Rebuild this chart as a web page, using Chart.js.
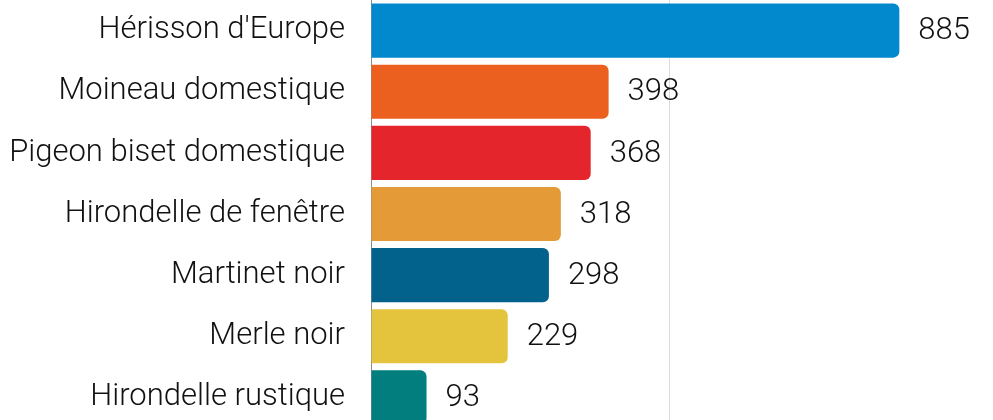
<!DOCTYPE html>
<html>
<head>
<meta charset="utf-8">
<script src="https://cdn.jsdelivr.net/npm/chart.js@4"></script>
<style>
  html, body { margin: 0; padding: 0; background: #fff; overflow: hidden; }
  #wrap { width: 993px; height: 428px; }
</style>
</head>
<body>
<div id="wrap"><canvas id="myChart"></canvas></div>
<script>
// species and counts
var species = ["Hérisson d'Europe", 'Moineau domestique', 'Pigeon biset domestique',
  'Hirondelle de fenêtre', 'Martinet noir', 'Merle noir', 'Hirondelle rustique'];
var counts = [885, 398, 368, 318, 298, 229, 93];
var barColors = ['#0289cd', '#eb601e', '#e4262c', '#e39a37', '#02628c', '#e3c43c', '#027e7e'];
var xTicks = [0, 500, 1000];

var labelFont = { family: "Roboto, sans-serif", size: 31, weight: '300' };

// draw the numbers at the end of each bar
var valueLabels = {
  id: 'valueLabels',
  afterDatasetsDraw: function(chart) {
    var ctx = chart.ctx;
    var meta = chart.getDatasetMeta(0);
    ctx.save();
    ctx.font = Chart.helpers.toFont(labelFont).string;
    ctx.fillStyle = '#111';
    ctx.textAlign = 'left';
    ctx.textBaseline = 'middle';
    meta.data.forEach(function(bar, i) {
      ctx.fillText(String(counts[i]), bar.x + 19, bar.y + 1);
    });
    ctx.restore();
  }
};

var ctx = document.getElementById('myChart').getContext('2d');
var myChart = new Chart(ctx, {
  type: 'bar',
  data: {
    labels: species,
    datasets: [{
      data: counts,
      backgroundColor: barColors,
      borderRadius: { topRight: 6, bottomRight: 6, topLeft: 0, bottomLeft: 0 },
      borderSkipped: false,
      barPercentage: 0.885,
      categoryPercentage: 1
    }]
  },
  options: {
    indexAxis: 'y',
    responsive: true,
    maintainAspectRatio: false,
    animation: false,
    layout: { padding: { left: 0, top: 0, bottom: 0, right: 25 } },
    plugins: { legend: { display: false }, tooltip: { enabled: false } },
    scales: {
      x: {
        min: 0,
        max: 1000,
        afterBuildTicks: function(scale) {
          scale.ticks = xTicks.map(function(v) { return { value: v }; });
        },
        afterFit: function(scale) { scale.height = 0; scale.paddingLeft = 0; scale.paddingRight = 0; },
        ticks: { display: false },
        border: { display: false },
        grid: {
          drawTicks: false,
          color: function(c) { return c.tick && c.tick.value === 500 ? '#dcdcdc' : 'rgba(0,0,0,0)'; }
        }
      },
      y: {
        afterFit: function(scale) { scale.width = 371; scale.paddingTop = 0; scale.paddingBottom = 0; },
        ticks: { color: '#111', font: labelFont, padding: 26 },
        border: { display: true, color: '#8c8c8c', width: 1 },
        grid: { display: false, drawTicks: false }
      }
    }
  },
  plugins: [valueLabels]
});
</script>
</body>
</html>
